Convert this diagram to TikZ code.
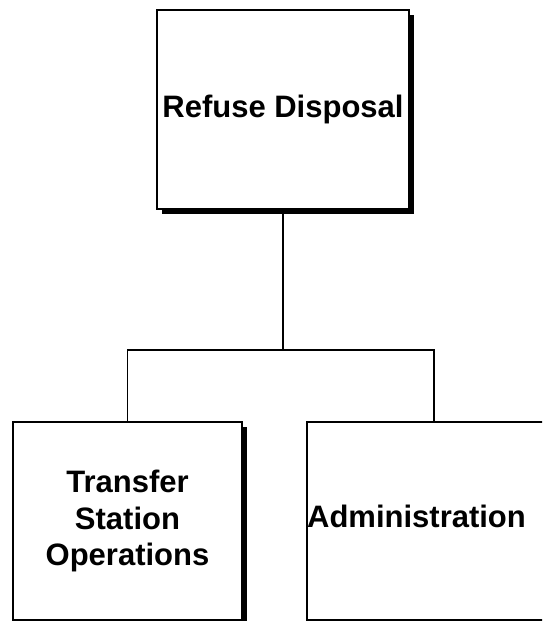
\documentclass[tikz,border=0pt]{standalone}
\usepackage{fontspec}
\setmainfont{Liberation Sans}
\usetikzlibrary{shadows}
\begin{document}
\begin{tikzpicture}[x=1pt,y=-1pt,
  plainbox/.style={draw=black, line width=1.6pt, fill=white, inner sep=0pt,
    align=center, font=\fontsize{31}{36.5}\selectfont\bfseries},
  box/.style={plainbox,
    drop shadow={shadow xshift=5pt, shadow yshift=-5pt, fill=black, opacity=1}},
  txt/.style={inner sep=0pt, align=center, font=\fontsize{31}{36.5}\selectfont\bfseries},
  conn/.style={draw=black, line width=1.3pt}]
\useasboundingbox (0,0) rectangle (542,621);
\clip (0,0) rectangle (542,621);
\node[box, minimum width=252pt, minimum height=199pt] (top) at (283,109.5) {Refuse Disposal};
\node[box, minimum width=229pt, minimum height=198pt] (tso) at (127.5,521) {Transfer\\Station\\Operations};
\node[plainbox, minimum width=300pt, minimum height=198pt] (adm) at (457,521) {};
\node[txt] (admtxt) at (416.5,516) {Administration};
\coordinate (junc) at (283,350);
\coordinate (admtop) at (434,422);
\draw[conn] (top.south) -- (junc);
\draw[conn] (tso.north) |- (junc);
\draw[conn] (admtop) |- (junc);
\end{tikzpicture}
\end{document}
